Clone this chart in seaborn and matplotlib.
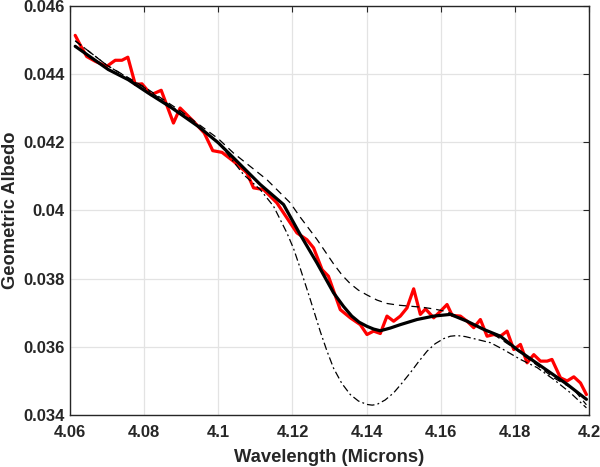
# Geometric albedo near 4.1 microns: observed spectrum vs. models

import numpy as np
import pandas as pd
import matplotlib
matplotlib.use("Agg")
import matplotlib.pyplot as plt
from matplotlib.ticker import FuncFormatter
import seaborn as sns

# -----------------------------------
# Data
# -----------------------------------
obs_wl = [4.0614, 4.0627, 4.0645, 4.0668, 4.0699, 4.0722, 4.0740, 4.0756, 4.0776, 4.0794,
          4.0819, 4.0846, 4.0879, 4.0897, 4.0933, 4.0962, 4.0985, 4.1010, 4.1041, 4.1077,
          4.1095, 4.1122, 4.1158, 4.1185, 4.1212, 4.1239, 4.1257, 4.1280, 4.1297, 4.1329,
          4.1356, 4.1383, 4.1401, 4.1419, 4.1437, 4.1455, 4.1473, 4.1491, 4.1509, 4.1527,
          4.1545, 4.1559, 4.1581, 4.1599, 4.1617, 4.1631, 4.1653, 4.1671, 4.1689, 4.1707,
          4.1725, 4.1743, 4.1761, 4.1779, 4.1797, 4.1815, 4.1833, 4.1851, 4.1869, 4.1887,
          4.1900, 4.1923, 4.1941, 4.1959, 4.1977, 4.1993]
obs_albedo = [0.04513, 0.04486, 0.04451, 0.04437, 0.04422, 0.04440, 0.04440, 0.04449, 0.04369, 0.04371,
              0.04339, 0.04352, 0.04256, 0.04300, 0.04261, 0.04227, 0.04175, 0.04170, 0.04144, 0.04110,
              0.04066, 0.04061, 0.04022, 0.03978, 0.03934, 0.03914, 0.03890, 0.03826, 0.03807, 0.03709,
              0.03685, 0.03665, 0.03636, 0.03646, 0.03639, 0.03690, 0.03675, 0.03690, 0.03714, 0.03770,
              0.03695, 0.03711, 0.03685, 0.03704, 0.03724, 0.03692, 0.03690, 0.03675, 0.03656, 0.03680,
              0.03631, 0.03636, 0.03631, 0.03646, 0.03592, 0.03607, 0.03553, 0.03577, 0.03558, 0.03558,
              0.03563, 0.03509, 0.03500, 0.03512, 0.03494, 0.03460]

fit_wl = [4.0614, 4.0703, 4.0757, 4.0811, 4.0875, 4.0946, 4.1000, 4.1041, 4.1113, 4.1176,
          4.1221, 4.1266, 4.1311, 4.1338, 4.1360, 4.1380, 4.1401, 4.1419, 4.1437, 4.1464,
          4.1491, 4.1536, 4.1581, 4.1626, 4.1671, 4.1716, 4.1761, 4.1806, 4.1851, 4.1896,
          4.1941, 4.1993]
fit_albedo = [0.04481, 0.04413, 0.04383, 0.04344, 0.04300, 0.04246, 0.04198, 0.04154, 0.04076, 0.04017,
              0.03929, 0.03846, 0.03758, 0.03718, 0.03690, 0.03672, 0.03660, 0.03652, 0.03647, 0.03655,
              0.03665, 0.03680, 0.03690, 0.03695, 0.03675, 0.03651, 0.03631, 0.03592, 0.03558, 0.03524,
              0.03490, 0.03446]

dash_wl = [4.0614, 4.0700, 4.0800, 4.0900, 4.1000, 4.1041, 4.1131, 4.1194, 4.1221, 4.1266,
           4.1311, 4.1334, 4.1356, 4.1378, 4.1401, 4.1428, 4.1455, 4.1486, 4.1518, 4.1550,
           4.1581, 4.1608, 4.1635, 4.1662, 4.1689, 4.1743, 4.1797, 4.1851, 4.1905, 4.1959,
           4.1993]
dash_albedo = [0.04497, 0.04425, 0.04362, 0.04290, 0.04210, 0.04168, 0.04090, 0.04022, 0.03980, 0.03915,
               0.03843, 0.03810, 0.03785, 0.03766, 0.03752, 0.03737, 0.03727, 0.03722, 0.03719, 0.03716,
               0.03711, 0.03705, 0.03695, 0.03681, 0.03665, 0.03636, 0.03597, 0.03553, 0.03509, 0.03475,
               0.03430]

dashdot_wl = [4.0614, 4.0700, 4.0800, 4.0900, 4.1000, 4.1068, 4.1113, 4.1149, 4.1185, 4.1203,
              4.1221, 4.1248, 4.1275, 4.1293, 4.1311, 4.1333, 4.1356, 4.1378, 4.1401, 4.1415,
              4.1428, 4.1450, 4.1473, 4.1495, 4.1518, 4.1540, 4.1563, 4.1585, 4.1608, 4.1626,
              4.1644, 4.1666, 4.1689, 4.1734, 4.1769, 4.1815, 4.1860, 4.1905, 4.1950, 4.1993]
dashdot_albedo = [0.04497, 0.04425, 0.04360, 0.04285, 0.04200, 0.04105, 0.04061, 0.04012, 0.03934, 0.03888,
                  0.03830, 0.03739, 0.03645, 0.03588, 0.03537, 0.03493, 0.03460, 0.03441, 0.03431, 0.03429,
                  0.03431, 0.03444, 0.03465, 0.03493, 0.03524, 0.03556, 0.03587, 0.03609, 0.03624, 0.03631,
                  0.03633, 0.03630, 0.03624, 0.03612, 0.03592, 0.03563, 0.03539, 0.03504, 0.03465, 0.03421]

x_ticks = [4.06, 4.08, 4.1, 4.12, 4.14, 4.16, 4.18, 4.2]
y_ticks = [0.034, 0.036, 0.038, 0.04, 0.042, 0.044, 0.046]

# -----------------------------------
# Style
# -----------------------------------
sns.set_style("whitegrid")
plt.rcParams['font.family'] = ['Liberation Sans', 'DejaVu Sans']
plt.rcParams['font.weight'] = 'bold'

fig = plt.figure(figsize=(6, 4.67), dpi=100)
ax = fig.add_axes([0.1167, 0.1113, 0.865, 0.8765])

obs = pd.DataFrame({'wl': obs_wl, 'albedo': obs_albedo})
fit = pd.DataFrame({'wl': fit_wl, 'albedo': fit_albedo})
dash = pd.DataFrame({'wl': dash_wl, 'albedo': dash_albedo})
dashdot = pd.DataFrame({'wl': dashdot_wl, 'albedo': dashdot_albedo})

sns.lineplot(data=obs, x='wl', y='albedo', ax=ax, color='#ff0000', linewidth=2.3, sort=False)
sns.lineplot(data=fit, x='wl', y='albedo', ax=ax, color='black', linewidth=2.3, sort=False)
sns.lineplot(data=dash, x='wl', y='albedo', ax=ax, color='black', linewidth=0.9,
             linestyle=(0, (6, 4)), sort=False)
sns.lineplot(data=dashdot, x='wl', y='albedo', ax=ax, color='black', linewidth=0.9,
             linestyle=(0, (6, 2.5, 1.5, 2.5)), sort=False)

ax.set_xlim(4.06, 4.2)
ax.set_ylim(0.034, 0.046)
ax.set_xticks(x_ticks)
ax.set_yticks(y_ticks)
ax.xaxis.set_major_formatter(FuncFormatter(lambda v, p: '%g' % round(v, 4)))
ax.yaxis.set_major_formatter(FuncFormatter(lambda v, p: '%g' % round(v, 4)))

ax.grid(True, color='#e3e3e3', linewidth=0.9)
for s in ax.spines.values():
    s.set_color('#262626')
    s.set_linewidth(1.0)
ax.tick_params(direction='in', length=4, width=0.8, colors='#262626',
               labelsize=12, top=True, right=True)
ax.tick_params(axis='x', pad=7)
ax.tick_params(axis='y', pad=4)
for lab in ax.get_xticklabels() + ax.get_yticklabels():
    lab.set_fontweight('bold')

ax.set_xlabel('Wavelength (Microns)', fontsize=13.2, fontweight='bold', color='#262626', labelpad=7)
ax.set_ylabel('Geometric Albedo', fontsize=13.2, fontweight='bold', color='#262626', labelpad=3)

fig.savefig('out.png', dpi=100)
